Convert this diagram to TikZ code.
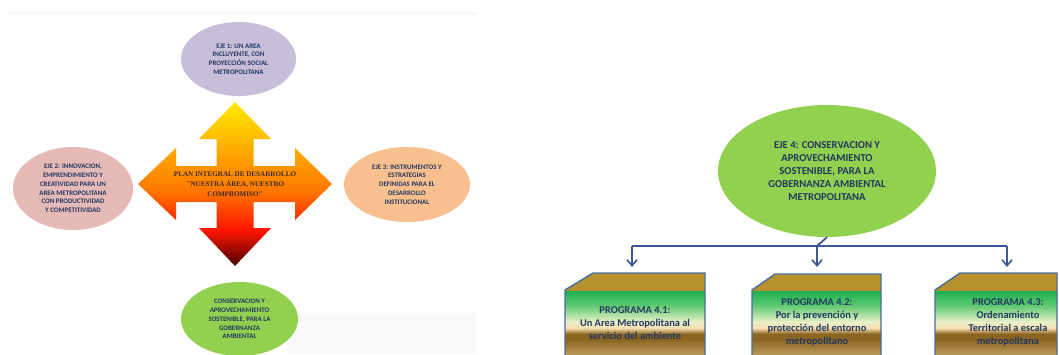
\documentclass[tikz,border=0pt]{standalone}
\usepackage{fontspec}
\setmainfont{Carlito}
\newfontfamily\serifb{Liberation Serif}
\usetikzlibrary{shapes.geometric,arrows.meta}
\definecolor{navy}{HTML}{22375F}
\definecolor{lav}{HTML}{C8BEDA}
\definecolor{pinkc}{HTML}{E5B9B6}
\definecolor{peach}{HTML}{F9C08F}
\definecolor{grn}{HTML}{92D050}
\definecolor{connc}{HTML}{3A5894}
\definecolor{boxedge}{HTML}{4A6CA0}
\definecolor{gold}{HTML}{B8912F}
\definecolor{plantext}{HTML}{3B2B2B}
\definecolor{bgA}{HTML}{F7F7F7}
\definecolor{bgB}{HTML}{F9F9F9}
\definecolor{gA}{HTML}{1DB050}
\definecolor{gB}{HTML}{5CC870}
\definecolor{gC}{HTML}{EAF0C8}
\definecolor{gD}{HTML}{F5DFB0}
\definecolor{gE}{HTML}{8A6420}
\definecolor{gF}{HTML}{D9BC7E}
\definecolor{cA}{HTML}{FFEE00}
\definecolor{cB}{HTML}{FFAA00}
\definecolor{cC}{HTML}{FF7800}
\definecolor{cD}{HTML}{FF1400}
\definecolor{cE}{HTML}{460000}
\tikzset{
  ell/.style={ellipse, inner sep=0pt, align=center, text=navy, font=\bfseries\fontsize{6.9}{8.8}\selectfont},
  bigell/.style={ellipse, inner sep=0pt, align=center, text=navy, font=\bfseries\fontsize{10.6}{13}\selectfont},
  progtext/.style={align=center, text=navy, font=\bfseries\fontsize{10.4}{13}\selectfont, inner sep=0pt},
  conn/.style={draw=connc, line width=1.8pt},
  arr/.style={conn, -{Straight Barb[length=6pt,width=10pt,line width=1.6pt]}},
  boxline/.style={draw=boxedge, line width=1.4pt},
}
\newcommand{\progfill}{%
  \fill[gold] (550,265) rectangle (1070,291);
  \shade[top color=gA, bottom color=gB] (550,291) rectangle (1070,305);
  \shade[top color=gB, bottom color=gC] (550,305) rectangle (1070,322);
  \shade[top color=gC, bottom color=gD] (550,322) rectangle (1070,328);
  \shade[top color=gD, bottom color=gE] (550,328) rectangle (1070,334);
  \fill[gE] (550,334) rectangle (1070,339);
  \shade[top color=gE, bottom color=gF] (550,339) rectangle (1070,365);
}
\begin{document}
\begin{tikzpicture}[x=1pt,y=-1pt]
\useasboundingbox (0,0) rectangle (1059,354);
\clip (0,0) rectangle (1059,354);
% background strips
\fill[bgA] (7,12) rectangle (476,15);
\fill[bgB] (287,313) rectangle (476,354);

% ellipses (left part)
\node[ell, fill=lav, minimum width=115pt, minimum height=74pt] (e1) at (238.5,59)
  {EJE 1: UN AREA\\INCLUYENTE, CON\\PROYECCIÓN SOCIAL\\METROPOLITANA};
\node[ell, fill=pinkc, minimum width=120pt, minimum height=83pt] (e2) at (73,188.5)
  {EJE 2: INNOVACION,\\EMPRENDIMIENTO Y\\CREATIVIDAD PARA UN\\AREA METROPOLITANA\\CON PRODUCTIVIDAD\\Y COMPETITIVIDAD};
\node[ell, fill=peach, minimum width=126pt, minimum height=75pt] (e3) at (407,184.5)
  {EJE 3: INSTRUMENTOS Y\\ESTRATEGIAS\\DEFINIDAS PARA EL\\DESARROLLO\\INSTITUCIONAL};
\node[ell, fill=grn, minimum width=117pt, minimum height=74pt] (e4) at (239.5,319)
  {CONSERVACION Y\\APROVECHAMIENTO\\SOSTENIBLE, PARA LA\\GOBERNANZA\\AMBIENTAL};

% cross arrow
\begin{scope}
\clip (235,102) -- (271,139) -- (253.5,139) -- (253.5,166) -- (295,166) -- (295,148)
  -- (332,184) -- (295,220) -- (295,202) -- (253.5,202) -- (253.5,228) -- (271,228)
  -- (235,266) -- (199,228) -- (216.5,228) -- (216.5,202) -- (176,202) -- (176,220)
  -- (138,184) -- (176,148) -- (176,166) -- (216.5,166) -- (216.5,139) -- (199,139) -- cycle;
\shade[top color=cA, bottom color=cB] (130,100) rectangle (340,150);
\shade[top color=cB, bottom color=cC] (130,150) rectangle (340,190);
\shade[top color=cC, bottom color=cD] (130,190) rectangle (340,230);
\shade[top color=cD, bottom color=cE] (130,230) rectangle (340,267);
\end{scope}
\node[align=center, text=plantext, inner sep=0pt, font=\serifb\bfseries\fontsize{7.1}{10}\selectfont] (plan) at (235,184.5)
  {PLAN INTEGRAL DE DESARROLLO\\``NUESTRA ÁREA, NUESTRO\\COMPROMISO''};

% right part
\node[bigell, fill=grn, minimum width=218pt, minimum height=132pt] (eje4) at (827,171)
  {EJE 4: CONSERVACION Y\\APROVECHAMIENTO\\SOSTENIBLE, PARA LA\\GOBERNANZA AMBIENTAL\\METROPOLITANA};

% program boxes
\begin{scope}
\clip (565,290) -- (593,273) -- (705,273) -- (705,360) -- (565,360) -- cycle;
\progfill
\end{scope}
\draw[boxline] (565,360) -- (565,290) -- (593,273) -- (705,273) -- (705,360);
\begin{scope}
\clip (752,290) -- (775,274) -- (881,274) -- (881,360) -- (752,360) -- cycle;
\progfill
\end{scope}
\draw[boxline] (752,360) -- (752,290) -- (775,274) -- (881,274) -- (881,360);
\begin{scope}
\clip (935,290) -- (960,273) -- (1057,273) -- (1057,360) -- (935,360) -- cycle;
\progfill
\end{scope}
\draw[boxline] (935,360) -- (935,290) -- (960,273) -- (1057,273) -- (1057,360);

\node[progtext] (p1) at (635,323) {PROGRAMA 4.1:\\Un Area Metropolitana al\\servicio del ambiente};
\node[progtext] (p2) at (817,322.5) {PROGRAMA 4.2:\\Por la prevención y\\protección del entorno\\metropolitano};
\node[progtext] (p3) at (1008,322.5) {PROGRAMA 4.3:\\Ordenamiento\\Territorial a escala\\metropolitana};

% connectors
\coordinate (jm) at (817,246);
\coordinate (jl) at (632,246);
\coordinate (jr) at (1007,246);
\coordinate (a1) at (632,267);
\coordinate (a2) at (817,267);
\coordinate (a3) at (1007,267);
\draw[conn] (eje4.south) -- (jm);
\draw[conn] (jl) -- (jr);
\draw[arr] (jl) -- (a1);
\draw[arr] (jm) -- (a2);
\draw[arr] (jr) -- (a3);
\end{tikzpicture}
\end{document}
